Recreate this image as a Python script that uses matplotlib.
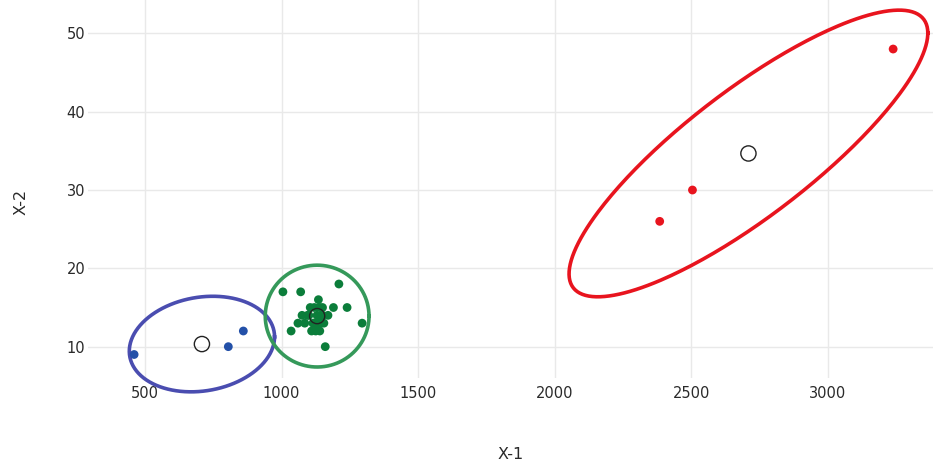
import matplotlib
matplotlib.use("Agg")
import matplotlib.pyplot as plt
import numpy as np

# cluster members (X-1, X-2)
blue_x = [460, 805, 860]
blue_y = [9, 10, 12]

green_x = [1005, 1070, 1210, 1240, 1295, 1035, 1160, 1135, 1190, 1075, 1060, 1085, 1105,
           1150, 1170, 1155, 1110, 1140, 1130, 1095, 1120, 1145, 1115, 1100, 1125,
           1130, 1135, 1140, 1120, 1145, 1150]
green_y = [17, 17, 18, 15, 13, 12, 10, 16, 15, 14, 13, 13, 15,
           15, 14, 13, 12, 12, 13, 14, 15, 14, 13, 14, 12,
           14, 13, 15, 13, 13, 14]

red_x = [2385, 2505, 3240]
red_y = [26, 30, 48]

# ellipse shape per cluster: half extent in x, half extent in y, correlation
blue_shape = (266, 6.1, 0.15)
green_shape = (190, 6.5, 0.0)
red_shape = (657, 18.3, 0.84)

x_ticks = [500, 1000, 1500, 2000, 2500, 3000]
y_ticks = [10, 20, 30, 40, 50]

clusters = [
    (blue_x, blue_y, blue_shape, "#2350a8", "#4a4db0"),
    (green_x, green_y, green_shape, "#0b7d3a", "#35995a"),
    (red_x, red_y, red_shape, "#e8141e", "#e8141e"),
]


def ellipse_path(cx, cy, sx, sy, rho, n=300):
    t = np.linspace(0, 2 * np.pi, n)
    ex = cx + sx * np.cos(t)
    ey = cy + sy * (rho * np.cos(t) + np.sqrt(1 - rho ** 2) * np.sin(t))
    return ex, ey


fig = plt.figure(figsize=(9.33, 4.63), dpi=100, facecolor="white")
ax = fig.add_axes([0.0943, 0.1836, 0.9057, 0.8164])
ax.set_facecolor("white")

for xs, ys, (sx, sy, rho), pt_col, ell_col in clusters:
    cx, cy = np.mean(xs), np.mean(ys)
    ex, ey = ellipse_path(cx, cy, sx, sy, rho)
    ax.plot(ex, ey, color=ell_col, linewidth=2.6, clip_on=False, zorder=2)
    ax.scatter(xs, ys, s=40, color=pt_col, edgecolors="none", zorder=3, clip_on=False)
    # open ring at the cluster centroid
    ax.scatter([cx], [cy], s=120, facecolors="none", edgecolors="#222222",
               linewidths=1.0, zorder=4, clip_on=False)

ax.set_xlim(291, 3386)
ax.set_ylim(6.0, 54.26)
ax.set_xticks(x_ticks)
ax.set_yticks(y_ticks)
ax.grid(True, color="#e9e9e9", linewidth=1.0)
ax.set_axisbelow(True)
for spine in ax.spines.values():
    spine.set_visible(False)
ax.tick_params(length=0, labelsize=10.5, colors="#2a2a2a")
ax.tick_params(axis="x", pad=6)
ax.tick_params(axis="y", pad=2)

ax.set_xlabel("X-1", fontsize=11.5, color="#2a2a2a")
ax.set_ylabel("X-2", fontsize=11.5, color="#2a2a2a")
ax.xaxis.set_label_coords(0.5, -0.183)
ax.yaxis.set_label_coords(-0.07, 0.4656)

fig.savefig("out.png", dpi=100, facecolor="white")
